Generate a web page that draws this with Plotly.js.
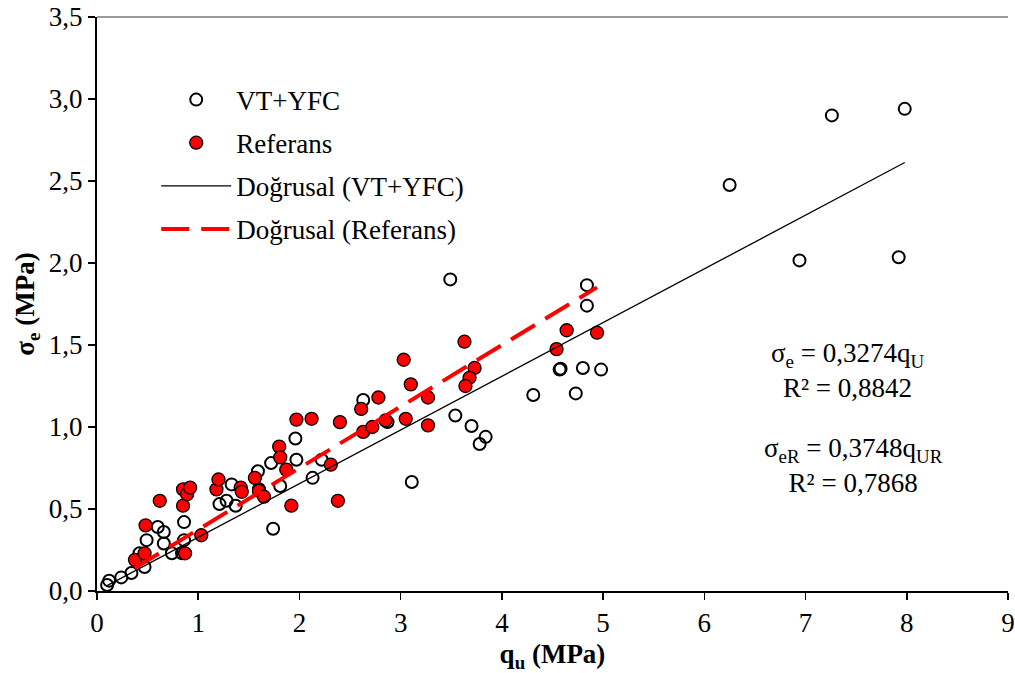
<!DOCTYPE html>
<html>
<head>
<meta charset="utf-8">
<script src="https://cdn.plot.ly/plotly-3.0.1.min.js"></script>
<style>html,body{margin:0;padding:0;background:#fff;}#chart{width:1015px;height:673px;}</style>
</head>
<body>
<div id="chart"></div>
<script>
// VT+YFC data (open circles)
const vtX = [0.10,0.12,0.24,0.34,0.47,0.42,0.49,0.60,0.66,0.66,0.74,0.84,0.86,0.86,1.21,1.28,1.37,1.33,1.59,1.72,1.81,1.74,1.96,1.97,2.13,2.22,1.60,2.63,2.87,3.11,3.49,3.54,3.70,3.78,3.84,4.31,4.57,4.58,4.73,4.80,4.84,4.84,4.98,6.25,6.94,7.26,7.92,7.98];
const vtY = [0.037,0.063,0.083,0.11,0.146,0.23,0.31,0.39,0.36,0.29,0.23,0.23,0.31,0.42,0.53,0.55,0.52,0.65,0.73,0.78,0.64,0.38,0.93,0.80,0.69,0.80,0.62,1.165,1.03,0.665,1.90,1.07,1.006,0.896,0.94,1.195,1.35,1.355,1.205,1.36,1.865,1.74,1.35,2.476,2.016,2.90,2.035,2.94];
// Referans data (red circles)
const refX = [0.375,0.47,0.48,0.62,0.85,0.85,0.89,0.92,0.87,1.03,1.18,1.20,1.42,1.43,1.56,1.60,1.65,1.80,1.81,1.87,1.92,1.97,2.12,2.31,2.38,2.40,2.61,2.63,2.72,2.78,2.85,3.03,3.10,3.05,3.27,3.27,3.63,3.73,3.68,3.64,4.54,4.64,4.94];
const refY = [0.19,0.23,0.40,0.55,0.52,0.62,0.59,0.63,0.23,0.34,0.62,0.68,0.63,0.605,0.69,0.61,0.575,0.88,0.815,0.74,0.52,1.045,1.05,0.77,0.55,1.03,1.11,0.97,1.00,1.18,1.04,1.41,1.26,1.05,1.18,1.01,1.52,1.36,1.30,1.25,1.475,1.59,1.575];
// Linear fits (through origin)
const slopeVT = 0.3274, r2VT = 0.8842;
const slopeRef = 0.3748, r2Ref = 0.7868;
const xTicks = [0,1,2,3,4,5,6,7,8,9];
const yTicks = [0,0.5,1,1.5,2,2.5,3,3.5];

const fmt = (v) => v.toFixed(4).replace('.', ',');
const lineVTx = [Math.min(...vtX), Math.max(...vtX)];
const lineRefx = [Math.min(...refX), Math.max(...refX)];

const FONT = 'Liberation Serif, Times New Roman, serif';
const FS = 27;

const traces = [
  {x: vtX, y: vtY, type: 'scatter', mode: 'markers', name: 'VT+YFC', legendgroup: 'a',
   marker: {symbol: 'circle', size: 12, color: 'rgba(255,255,255,0)', line: {color: '#000', width: 2}}},
  {x: refX, y: refY, type: 'scatter', mode: 'markers', name: 'Referans', legendgroup: 'b',
   marker: {symbol: 'circle', size: 13, color: '#ff0000', line: {color: '#000', width: 1.3}}},
  {x: lineVTx, y: lineVTx.map(v => slopeVT * v), type: 'scatter', mode: 'lines', name: 'Doğrusal (VT+YFC)', legendgroup: 'c',
   line: {color: '#000', width: 1.3}},
  {x: lineRefx, y: lineRefx.map(v => slopeRef * v), type: 'scatter', mode: 'lines', name: 'Doğrusal (Referans)', legendgroup: 'd',
   line: {color: '#ff0000', width: 4, dash: '28px,12px'}}
];

const annFont = {family: FONT, size: FS, color: '#000'};
const layout = {
  width: 1015, height: 673,
  margin: {l: 97, r: 7, t: 17, b: 82},
  paper_bgcolor: '#fff', plot_bgcolor: '#fff',
  separators: ', ',
  font: {family: FONT, size: FS, color: '#000'},
  showlegend: true,
  legend: {x: 0.065, y: 0.898, xanchor: 'left', yanchor: 'top', bgcolor: 'rgba(0,0,0,0)',
           font: {family: FONT, size: FS, color: '#000'}, tracegroupgap: 5, itemwidth: 70, traceorder: 'grouped'},
  xaxis: {range: [0, 9], tickvals: xTicks, ticktext: xTicks.map(String), showgrid: false, zeroline: false,
          showline: true, linecolor: '#000', linewidth: 2, ticks: 'outside', ticklen: 7, tickwidth: 1.5, tickcolor: '#000',
          tickfont: {family: FONT, size: FS}, automargin: false,
          title: {text: '<b>q<sub>u</sub> (MPa)</b>', font: {family: FONT, size: FS}, standoff: 8}},
  yaxis: {range: [0, 3.5], tickvals: yTicks, tickformat: '.1f', showgrid: false, zeroline: false,
          showline: true, linecolor: '#000', linewidth: 2, ticks: 'outside', ticklen: 7, tickwidth: 1.5, tickcolor: '#000',
          tickfont: {family: FONT, size: FS}, automargin: false,
          title: {text: '<b>σ<sub>e</sub> (MPa)</b>', font: {family: FONT, size: FS}, standoff: 6}},
  shapes: [
    {type: 'line', xref: 'paper', yref: 'paper', x0: 0, x1: 1, y0: 1, y1: 1, line: {color: '#777', width: 1.5}}
  ],
  annotations: [
    {x: 7.41, y: 1.345, xref: 'x', yref: 'y', showarrow: false, align: 'center',
     text: 'σ<sub>e</sub> = ' + fmt(slopeVT) + 'q<sub>U</sub><br>R² = ' + fmt(r2VT), font: annFont},
    {x: 7.47, y: 0.768, xref: 'x', yref: 'y', showarrow: false, align: 'center',
     text: 'σ<sub>eR</sub> = ' + fmt(slopeRef) + 'q<sub>UR</sub><br>R² = ' + fmt(r2Ref), font: annFont}
  ]
};

Plotly.newPlot('chart', traces, layout, {displayModeBar: false, staticPlot: true});
</script>
</body>
</html>
